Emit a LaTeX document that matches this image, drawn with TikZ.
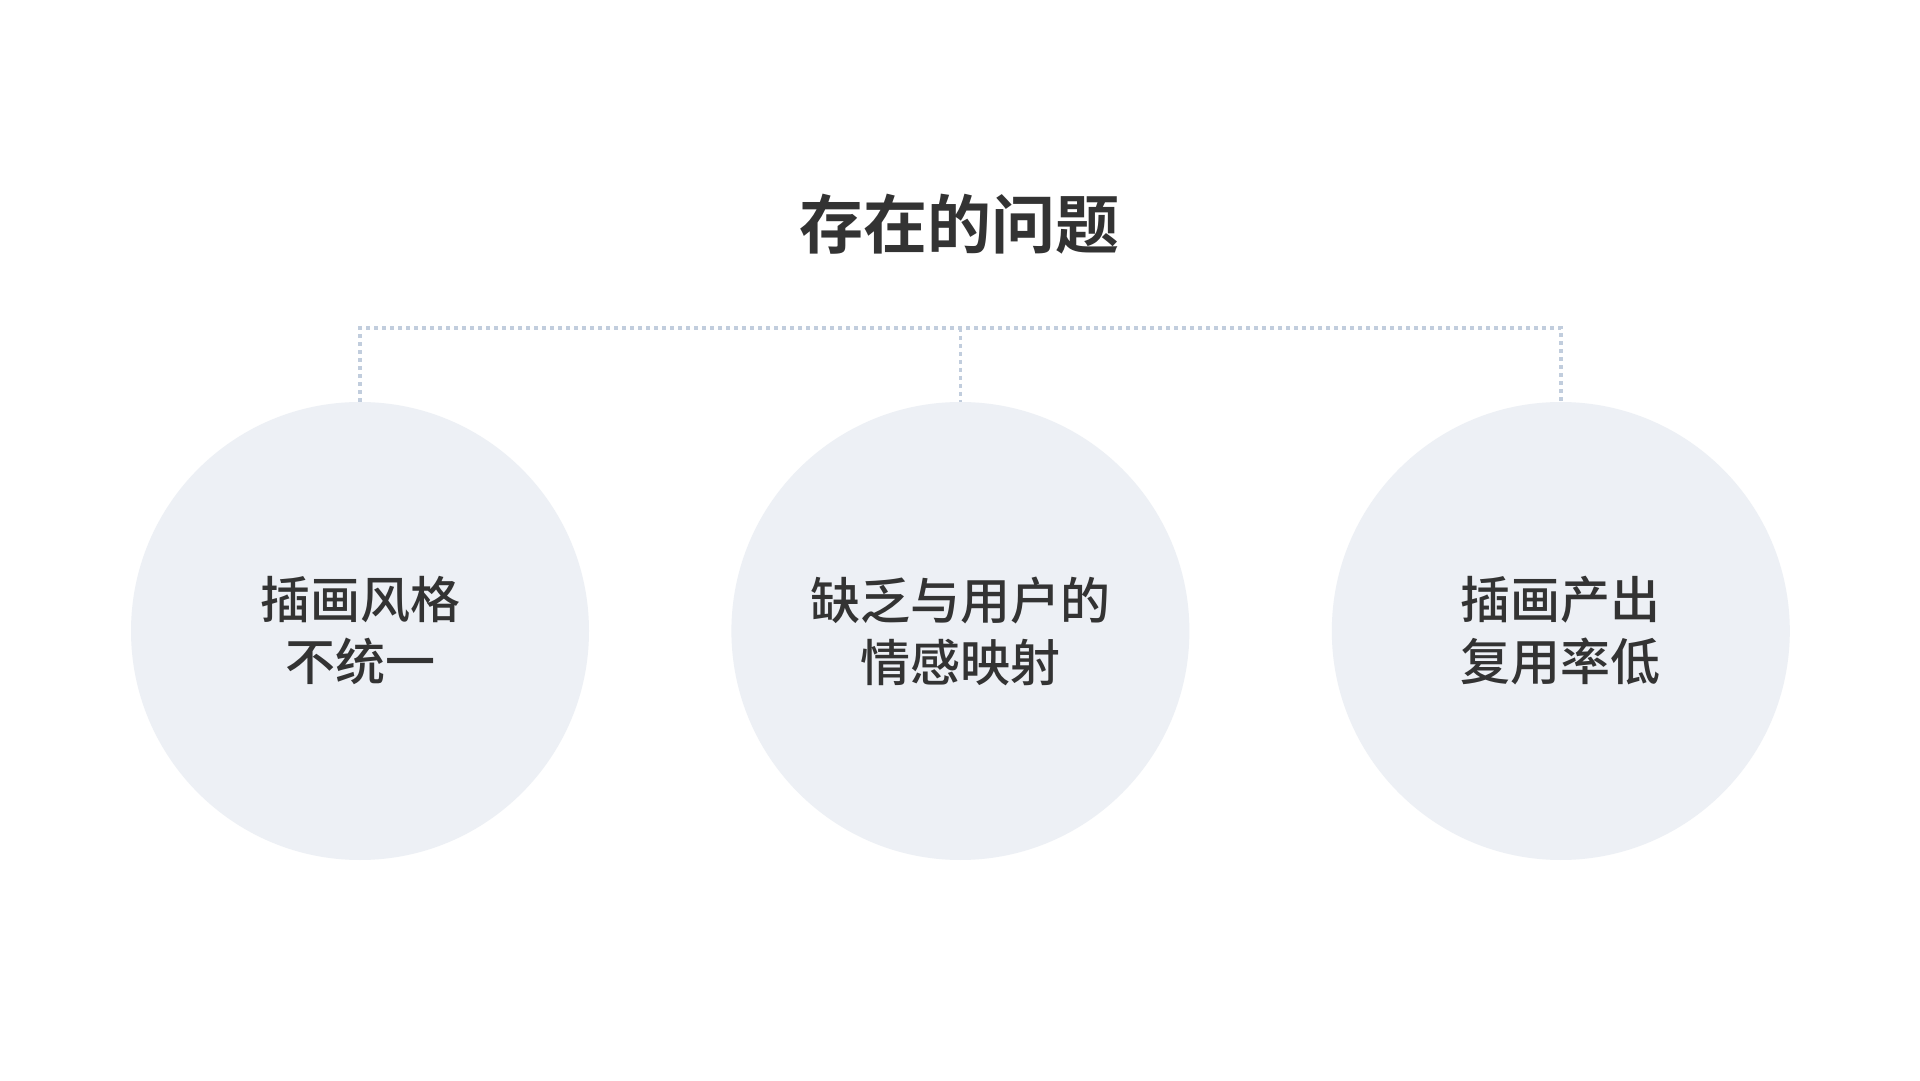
\documentclass[tikz,border=0pt]{standalone}
\usepackage{fontspec}
\newfontfamily\cjk{Noto Sans CJK SC Medium}
\newfontfamily\cjkbold{Noto Sans CJK SC Bold}
\usetikzlibrary{positioning}
\definecolor{inktext}{HTML}{333333}
\definecolor{bubble}{HTML}{EDF0F5}
\definecolor{busline}{HTML}{C1CDDD}
\begin{document}
\begin{tikzpicture}[x=1pt,y=1pt,every node/.style={inner sep=0pt}]
\tikzstyle{issue}=[circle,fill=bubble,minimum size=458pt,align=center,text=inktext,font=\cjk\fontsize{50pt}{62pt}\selectfont]
\tikzstyle{link}=[draw=busline,line width=3.5pt,dash pattern=on 4pt off 4pt]
\useasboundingbox[fill=white] (0,0) rectangle (1920,1080);

\node[text=inktext,font=\cjkbold\fontsize{64pt}{70pt}\selectfont](title) at (959,856){存在的问题};

\node[issue](c1) at (360,449){插画风格\\不统一};
\node[issue,right=142pt of c1](c2){缺乏与用户的\\情感映射};
\node[issue,right=142pt of c2](c3){插画产出\\复用率低};

\coordinate (bus) at (c2.north |- 0,752);
\draw[link] (c1.north) -- (c1.north |- bus) -- (c3.north |- bus) -- (c3.north);
\draw[link] (bus) -- (c2.north);
\end{tikzpicture}
\end{document}
